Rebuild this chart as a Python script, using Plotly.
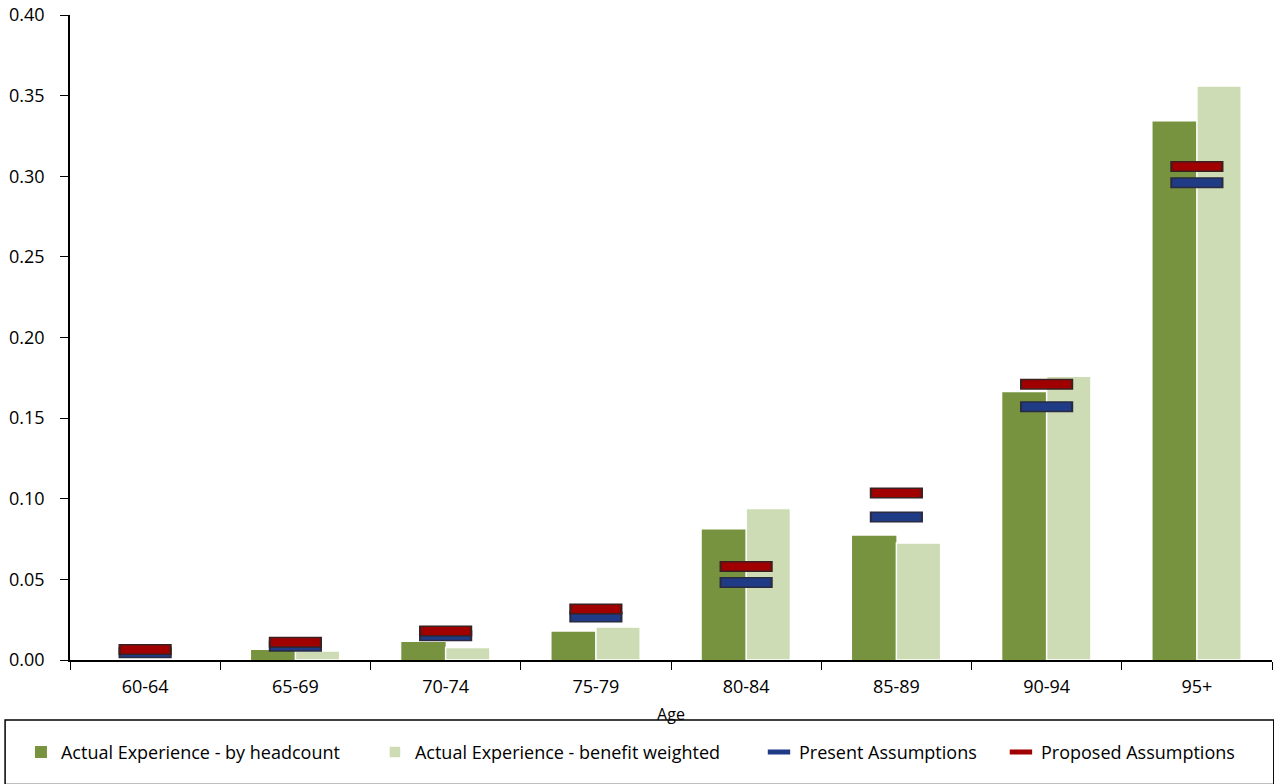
import plotly.graph_objects as go

categories = ["60-64", "65-69", "70-74", "75-79", "80-84", "85-89", "90-94", "95+"]
headcount = [0.0, 0.0062, 0.0112, 0.0175, 0.081, 0.077, 0.166, 0.334]
benefit_weighted = [0.0, 0.0056, 0.0078, 0.0205, 0.094, 0.0725, 0.176, 0.356]
present = [0.0045, 0.0085, 0.015, 0.0267, 0.048, 0.0887, 0.157, 0.296]
proposed = [0.0065, 0.011, 0.018, 0.0316, 0.058, 0.1035, 0.171, 0.306]
y_ticks = [0.0, 0.05, 0.10, 0.15, 0.20, 0.25, 0.30, 0.35, 0.40]

FONT = "Open Sans, Liberation Sans, sans-serif"
FS = 18

fig = go.Figure()
fig.add_trace(go.Bar(x=categories, y=headcount, name="Actual Experience - by headcount",
                     marker=dict(color="#78933F", line=dict(color="#78933F", width=0)),
                     legend="legend"))
fig.add_trace(go.Bar(x=categories, y=benefit_weighted, name="Actual Experience - benefit weighted",
                     marker=dict(color="#CEDCB6", line=dict(color="white", width=1.5)),
                     legend="legend2"))

# dark outline behind present dash
fig.add_trace(go.Scatter(x=categories, y=present, mode="markers", showlegend=False, hoverinfo="skip",
                         marker=dict(symbol="line-ew", size=38, line=dict(color="#2a2a40", width=11))))
fig.add_trace(go.Scatter(x=categories, y=present, mode="markers", name="Present Assumptions",
                         marker=dict(symbol="line-ew", size=35, line=dict(color="#1F3B86", width=8)),
                         legend="legend3"))
# dark outline behind proposed dash
fig.add_trace(go.Scatter(x=categories, y=proposed, mode="markers", showlegend=False, hoverinfo="skip",
                         marker=dict(symbol="line-ew", size=38, line=dict(color="#3a2020", width=11))))
fig.add_trace(go.Scatter(x=categories, y=proposed, mode="markers", name="Proposed Assumptions",
                         marker=dict(symbol="line-ew", size=35, line=dict(color="#A00000", width=8)),
                         legend="legend4"))

def leg(xpos):
    return dict(orientation="h", x=xpos, xanchor="left", y=-0.143, yanchor="middle",
                font=dict(size=FS, family=FONT, color="black"), bgcolor="rgba(0,0,0,0)",
                borderwidth=0, itemwidth=30)

fig.update_layout(
    width=1274, height=784,
    margin=dict(l=70, r=2, t=15, b=124, autoexpand=False),
    plot_bgcolor="white", paper_bgcolor="white",
    barmode="group", bargap=0.41, bargroupgap=0.0,
    font=dict(family=FONT, size=FS, color="black"),
    showlegend=True,
    legend=leg(-0.0408),
    legend2=leg(0.2537),
    legend3=leg(0.5732),
    legend4=leg(0.7745),
    xaxis=dict(type="category", range=[-0.5, len(categories) - 0.5],
               showline=True, linecolor="black", linewidth=1.5,
               ticks="outside", tickson="boundaries", ticklen=8, tickcolor="black",
               ticklabelstandoff=10, automargin=False,
               title=dict(text="Age", standoff=11, font=dict(size=16)), showgrid=False),
    yaxis=dict(range=[0, 0.40], tickvals=y_ticks, tickformat=".2f", showline=True,
               linecolor="black", linewidth=1.5, ticks="outside", ticklen=8, tickcolor="black",
               ticklabelstandoff=12, automargin=False,
               showgrid=False, zeroline=False),
    shapes=[dict(type="rect", xref="paper", yref="paper", x0=-0.054, x1=1.0015, y0=-0.193, y1=-0.093,
                 line=dict(color="black", width=1.5), fillcolor="rgba(0,0,0,0)", layer="below")],
)

fig.write_html("out.html", config={"displayModeBar": False},
               post_script="document.body.style.margin='0';window.dispatchEvent(new Event('resize'));")
